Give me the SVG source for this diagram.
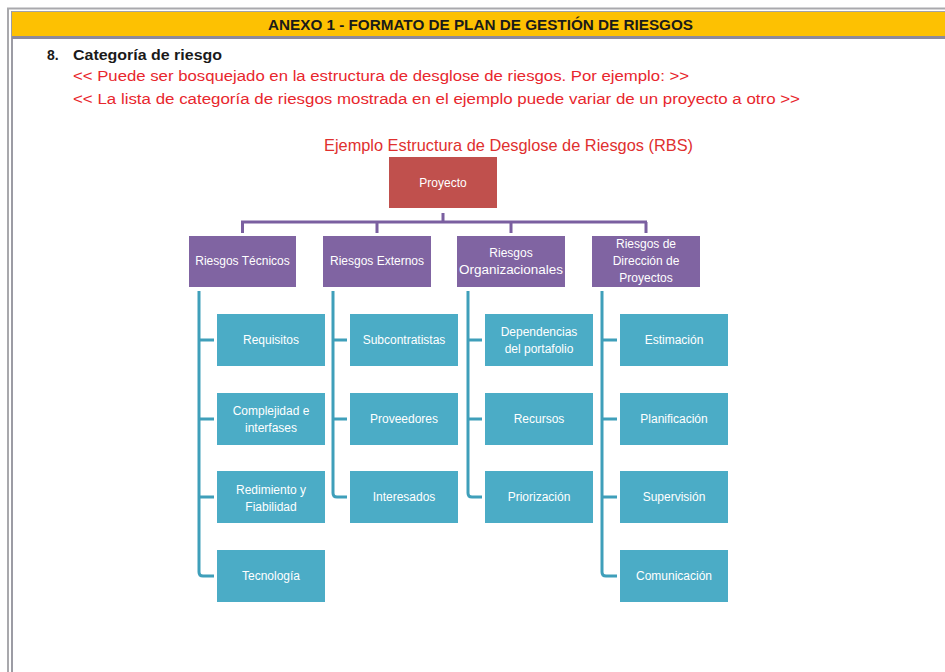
<svg xmlns="http://www.w3.org/2000/svg" width="945" height="672" viewBox="0 0 945 672">
<style>
.hdr{font-family:"Liberation Sans",Arial,sans-serif;font-weight:bold;font-size:14px;fill:#1a1a1a}
.red{font-family:"Liberation Sans",Arial,sans-serif;font-size:14px;fill:#e8262d}
.ttl{font-family:"Liberation Sans",Arial,sans-serif;font-size:17px;fill:#e0302f}
.lbl{font-family:"Liberation Sans",Arial,sans-serif;font-size:12px;fill:#ffffff;text-anchor:middle}
.root rect{fill:#c0504d}
.l2 rect{fill:#8064a2}
.l3 rect{fill:#4bacc6}
.pc{fill:none;stroke:#7a5fa0;stroke-width:3}
.tc{fill:none;stroke:#3f9fba;stroke-width:3}
</style>
<rect width="945" height="672" fill="#ffffff"/>
<!-- frame -->
<g id="frame">
<line x1="7" y1="8.5" x2="945" y2="8.5" stroke="#a9a9ad" stroke-width="2"/>
<line x1="8" y1="8" x2="8" y2="672" stroke="#a9a9ad" stroke-width="2"/>
<line x1="12" y1="11" x2="12" y2="672" stroke="#9c9ca4" stroke-width="2"/>
<rect x="12" y="12" width="933" height="24" fill="#fdc102"/>
<line x1="12" y1="11.5" x2="945" y2="11.5" stroke="#a2a2a8" stroke-width="1"/>
<line x1="12" y1="37.5" x2="945" y2="37.5" stroke="#8c8a9c" stroke-width="3"/>
</g>
<g id="texts">
<text class="hdr" x="268" y="30" textLength="425" lengthAdjust="spacingAndGlyphs">ANEXO 1 - FORMATO DE PLAN DE GESTIÓN DE RIESGOS</text>
<text class="hdr" x="47" y="60">8.</text>
<text class="hdr" x="73" y="60" textLength="149" lengthAdjust="spacingAndGlyphs">Categoría de riesgo</text>
<text class="red" x="73" y="81" textLength="616" lengthAdjust="spacingAndGlyphs">&lt;&lt; Puede ser bosquejado en la estructura de desglose de riesgos. Por ejemplo: &gt;&gt;</text>
<text class="red" x="73" y="104" textLength="727" lengthAdjust="spacingAndGlyphs">&lt;&lt; La lista de categoría de riesgos mostrada en el ejemplo puede variar de un proyecto a otro &gt;&gt;</text>
<text class="ttl" x="324" y="151" textLength="369" lengthAdjust="spacingAndGlyphs">Ejemplo Estructura de Desglose de Riesgos (RBS)</text>
</g>
<!-- connectors -->
<g id="connectors">
<path class="pc" d="M443 213 V222 M241 222 H647 M242.5 222 V233 M377 222 V233 M511 222 V233 M646 222 V233"/>
<path class="tc" d="M199 291 V572 Q199 576 203 576 H214 M199 340 H214 M199 419 H214 M199 497 H214"/>
<path class="tc" d="M333 291 V493 Q333 497 337 497 H347 M333 340 H347 M333 419 H347"/>
<path class="tc" d="M468 291 V493 Q468 497 472 497 H482 M468 340 H482 M468 419 H482"/>
<path class="tc" d="M602 291 V572 Q602 576 606 576 H617 M602 340 H617 M602 419 H617 M602 497 H617"/>
</g>
<!-- root -->
<g id="proyecto" class="root"><rect x="389" y="157" width="108" height="51"/><text class="lbl" x="443" y="187">Proyecto</text></g>
<!-- level 2 -->
<g id="tecnicos" class="l2"><rect x="189" y="236" width="107" height="51"/><text class="lbl" x="242.5" y="265">Riesgos Técnicos</text></g>
<g id="externos" class="l2"><rect x="323" y="236" width="108" height="51"/><text class="lbl" x="377" y="265">Riesgos Externos</text></g>
<g id="organizacionales" class="l2"><rect x="457" y="236" width="108" height="51"/><text class="lbl" x="511" y="257">Riesgos</text><text class="lbl" x="511" y="274" textLength="104" lengthAdjust="spacingAndGlyphs">Organizacionales</text></g>
<g id="direccion" class="l2"><rect x="592" y="236" width="108" height="51"/><text class="lbl" x="646" y="248">Riesgos de</text><text class="lbl" x="646" y="265">Dirección de</text><text class="lbl" x="646" y="282">Proyectos</text></g>
<!-- level 3 col 1 -->
<g id="requisitos" class="l3"><rect x="217" y="314" width="108" height="52"/><text class="lbl" x="271" y="344">Requisitos</text></g>
<g id="complejidad" class="l3"><rect x="217" y="393" width="108" height="52"/><text class="lbl" x="271" y="415">Complejidad e</text><text class="lbl" x="271" y="432">interfases</text></g>
<g id="rendimiento" class="l3"><rect x="217" y="471" width="108" height="52"/><text class="lbl" x="271" y="494">Redimiento y</text><text class="lbl" x="271" y="511">Fiabilidad</text></g>
<g id="tecnologia" class="l3"><rect x="217" y="550" width="108" height="52"/><text class="lbl" x="271" y="580">Tecnología</text></g>
<!-- col 2 -->
<g id="subcontratistas" class="l3"><rect x="350" y="314" width="108" height="52"/><text class="lbl" x="404" y="344">Subcontratistas</text></g>
<g id="proveedores" class="l3"><rect x="350" y="393" width="108" height="52"/><text class="lbl" x="404" y="423">Proveedores</text></g>
<g id="interesados" class="l3"><rect x="350" y="471" width="108" height="52"/><text class="lbl" x="404" y="501">Interesados</text></g>
<!-- col 3 -->
<g id="dependencias" class="l3"><rect x="485" y="314" width="108" height="52"/><text class="lbl" x="539" y="336">Dependencias</text><text class="lbl" x="539" y="353">del portafolio</text></g>
<g id="recursos" class="l3"><rect x="485" y="393" width="108" height="52"/><text class="lbl" x="539" y="423">Recursos</text></g>
<g id="priorizacion" class="l3"><rect x="485" y="471" width="108" height="52"/><text class="lbl" x="539" y="501">Priorización</text></g>
<!-- col 4 -->
<g id="estimacion" class="l3"><rect x="620" y="314" width="108" height="52"/><text class="lbl" x="674" y="344">Estimación</text></g>
<g id="planificacion" class="l3"><rect x="620" y="393" width="108" height="52"/><text class="lbl" x="674" y="423">Planificación</text></g>
<g id="supervision" class="l3"><rect x="620" y="471" width="108" height="52"/><text class="lbl" x="674" y="501">Supervisión</text></g>
<g id="comunicacion" class="l3"><rect x="620" y="550" width="108" height="52"/><text class="lbl" x="674" y="580">Comunicación</text></g>
</svg>
